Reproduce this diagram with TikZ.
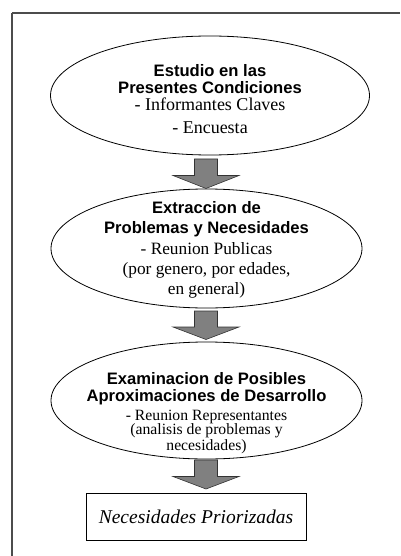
\documentclass[tikz,border=0pt]{standalone}
\usepackage{fontspec}
\setmainfont{Liberation Serif}
\setsansfont{Liberation Sans}
\usepackage{tikz}
\usetikzlibrary{shapes.geometric, positioning, calc}
\pgfdeclarelayer{edgelayer}
\pgfdeclarelayer{nodelayer}
\pgfsetlayers{nodelayer,main,edgelayer}

\newcommand{\hd}[1]{{\fontsize{16.6}{15}\selectfont\sffamily\bfseries #1}}
\newcommand{\txtfont}[1]{\fontsize{#1}{15}\selectfont\setlength{\lineskiplimit}{-100pt}}
\tikzset{
	etapa/.style={ellipse, draw, line width=0.8pt, inner sep=0pt},
	texto/.style={align=center, inner sep=0pt},
	flecha/.style={draw=black!80, fill=black!50, line width=0.6pt, line join=miter},
	caja/.style={rectangle, draw, line width=0.8pt, minimum width=220pt, minimum height=47pt}
}

\begin{document}
\begin{tikzpicture}[x=1pt, y=-1pt]
	\useasboundingbox (0,0) rectangle (400,556);
	\begin{pgfonlayer}{nodelayer}
		\node [etapa, minimum width=319pt, minimum height=119pt,
			label={[texto, font=\txtfont{18}, yshift=-3.9pt]center:{\hd{Estudio en las}\\[2pt] \hd{Presentes Condiciones}\\[2pt] - Informantes Claves\\[8pt] - Encuesta}}] (0) at (210, 95.5) {};
		\node [etapa, minimum width=311pt, minimum height=119pt,
			label={[texto, font=\txtfont{17.3}, yshift=-1.4pt]center:{\hd{Extraccion de}\\[5.5pt] \hd{Problemas y Necesidades}\\[6pt] - Reunion Publicas\\[5pt] (por genero, por edades,\\[5pt] en general)}}] (1) at (206.5, 248.5) {};
		\node [etapa, minimum width=311pt, minimum height=117pt,
			label={[texto, font=\txtfont{15.7}, yshift=-12.7pt]center:{\hd{Examinacion de Posibles}\\[1.3pt] \hd{Aproximaciones de Desarrollo}\\[4.3pt] - Reunion Representantes\\[-0.6pt] (analisis de problemas y\\[0.6pt] necesidades)}}] (2) at (206.5, 400.5) {};
		\node [caja, font=\fontsize{19.5}{20}\selectfont\itshape] (3) at (196, 516.5) {Necesidades Priorizadas};
		\coordinate (4) at (12, 556);
		\coordinate (5) at (12, 13);
		\coordinate (6) at (400, 13);
		\coordinate (7) at (206, 159);
		\coordinate (8) at (206, 311);
		\coordinate (9) at (206, 460);
	\end{pgfonlayer}
	\begin{pgfonlayer}{edgelayer}
		\draw [flecha] ($(7)+(-11.5,0)$) -- ++(0,16.5) -- ++(-21.5,0) -- ++(33,13) -- ++(33,-13) -- ++(-21.5,0) -- ++(0,-16.5) -- cycle;
		\draw [flecha] ($(8)+(-11.5,0)$) -- ++(0,16) -- ++(-21.5,0) -- ++(33,12.5) -- ++(33,-12.5) -- ++(-21.5,0) -- ++(0,-16) -- cycle;
		\draw [flecha] ($(9)+(-11.5,0)$) -- ++(0,16.5) -- ++(-21.5,0) -- ++(33,12.5) -- ++(33,-12.5) -- ++(-21.5,0) -- ++(0,-16.5) -- cycle;
		\draw [line width=1.3pt, black!70] (4) to (5);
		\draw [line width=1.3pt, black!70] (5) to (6);
	\end{pgfonlayer}
\end{tikzpicture}
\end{document}
